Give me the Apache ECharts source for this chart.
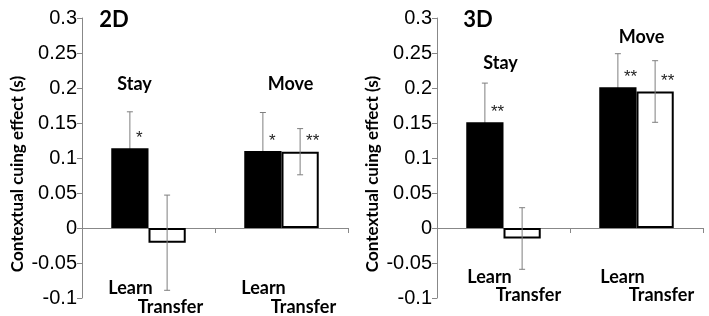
<!DOCTYPE html>
<html>
<head>
<meta charset="utf-8">
<script src="https://cdn.jsdelivr.net/npm/echarts@6/dist/echarts.min.js"></script>
<style>
html,body{margin:0;padding:0;background:#fff}
#main{width:709px;height:316px}
</style>
</head>
<body>
<div id="main"></div>
<script>
// data
var groups = ['Stay', 'Move'];
var conditions = ['Learn', 'Transfer'];
var panels = ['2D', '3D'];
var yName = 'Contextual cuing effect (s)';
var yMin = -0.1, yMax = 0.3, yStep = 0.05;

var learn2D = [0.114, 0.110];
var learn2DErr = [0.052, 0.055];
var transfer2D = [-0.021, 0.109];
var transfer2DErr = [0.068, 0.033];
var learn2DSig = ['*', '*'];
var transfer2DSig = ['', '**'];

var learn3D = [0.151, 0.201];
var learn3DErr = [0.056, 0.048];
var transfer3D = [-0.015, 0.195];
var transfer3DErr = [0.044, 0.044];
var learn3DSig = ['**', '**'];
var transfer3DSig = ['', '**'];

var FONT = 'Lato';
var NUMFONT = 'Liberation Sans';
var GRAY = '#888';

function errorItem(side) {
  return function (params, api) {
    var band = api.size([1, 0])[0];
    var x = api.coord([api.value(0), 0])[0] + side * band * 0.56 / 4;
    var hi = api.coord([api.value(0), api.value(1) + api.value(2)])[1];
    var lo = api.coord([api.value(0), api.value(1) - api.value(2)])[1];
    var st = {stroke: '#7f7f7f', lineWidth: 1};
    return {type: 'group', children: [
      {type: 'line', shape: {x1: x, y1: hi, x2: x, y2: lo}, style: st},
      {type: 'line', shape: {x1: x - 3, y1: hi, x2: x + 3, y2: hi}, style: st},
      {type: 'line', shape: {x1: x - 3, y1: lo, x2: x + 3, y2: lo}, style: st}
    ]};
  };
}

function errData(vals, errs) {
  return vals.map(function (v, i) { return [i, v, errs[i]]; });
}

function starLabel(sig) {
  return {
    show: true, position: ['50%', 0], offset: [6, -10], align: 'left', verticalAlign: 'middle',
    fontFamily: NUMFONT, fontSize: 17, color: '#222',
    formatter: function (p) { return sig[p.dataIndex]; }
  };
}

function xAxis(idx) {
  return {
    gridIndex: idx, type: 'category', data: groups,
    axisLine: {onZero: true, lineStyle: {color: GRAY, width: 1}},
    axisTick: {show: true, length: 5, lineStyle: {color: GRAY}},
    splitLine: {show: false},
    axisLabel: {show: false}
  };
}

function yAxis(idx) {
  return {
    gridIndex: idx, type: 'value', min: yMin, max: yMax, interval: yStep,
    axisLine: {show: true, lineStyle: {color: GRAY, width: 1}},
    axisTick: {show: true, length: 5, lineStyle: {color: GRAY}},
    splitLine: {show: false},
    axisLabel: {fontFamily: NUMFONT, fontSize: 20, color: '#000', margin: 5},
    name: yName, nameLocation: 'middle', nameGap: 56,
    nameTextStyle: {fontFamily: FONT, fontWeight: 'bold', fontSize: 17, color: '#000', padding: [0, 32, 0, 0]}
  };
}

function bars(idx, learn, transfer, lSig, tSig) {
  return [
    {type: 'bar', xAxisIndex: idx, yAxisIndex: idx, data: learn, barGap: 0, barCategoryGap: '44%', z: 2,
      itemStyle: {color: '#000', borderColor: '#000', borderWidth: 1.5}, label: starLabel(lSig)},
    {type: 'bar', xAxisIndex: idx, yAxisIndex: idx, data: transfer, barGap: 0, barCategoryGap: '44%', z: 2,
      itemStyle: {color: '#fff', borderColor: '#000', borderWidth: 2}, label: starLabel(tSig)}
  ];
}

function txt(x, y, s, size) {
  return {type: 'text', x: x, y: y, style: {text: s, font: 'bold ' + size + 'px ' + FONT, fill: '#000', align: 'center', verticalAlign: 'middle'}};
}

var chart = echarts.init(document.getElementById('main'));
chart.setOption({
  backgroundColor: '#fff',
  animation: false,
  grid: [
    {left: 82, top: 18, width: 266, height: 280, outerBoundsMode: 'none'},
    {left: 437, top: 18, width: 266, height: 280, outerBoundsMode: 'none'}
  ],
  xAxis: [xAxis(0), xAxis(1)],
  yAxis: [yAxis(0), yAxis(1)],
  series: [].concat(
    bars(0, learn2D, transfer2D, learn2DSig, transfer2DSig),
    bars(1, learn3D, transfer3D, learn3DSig, transfer3DSig),
    [
      {type: 'custom', xAxisIndex: 0, yAxisIndex: 0, z: 1, renderItem: errorItem(-1), data: errData(learn2D, learn2DErr)},
      {type: 'custom', xAxisIndex: 0, yAxisIndex: 0, z: 3, renderItem: errorItem(1), data: errData(transfer2D, transfer2DErr)},
      {type: 'custom', xAxisIndex: 1, yAxisIndex: 1, z: 1, renderItem: errorItem(-1), data: errData(learn3D, learn3DErr)},
      {type: 'custom', xAxisIndex: 1, yAxisIndex: 1, z: 3, renderItem: errorItem(1), data: errData(transfer3D, transfer3DErr)}
    ]
  )
});

// condition labels under the axis, group labels above the bars, placed from the category positions
var g = [];
var cx2 = groups.map(function (c, i) { return chart.convertToPixel({xAxisIndex: 0}, i); });
var cx3 = groups.map(function (c, i) { return chart.convertToPixel({xAxisIndex: 1}, i); });
cx2.forEach(function (x) {
  g.push(txt(x - 18, 288, conditions[0], 18));
  g.push(txt(x + 22, 307, conditions[1], 18));
});
cx3.forEach(function (x) {
  g.push(txt(x - 14, 277, conditions[0], 18));
  g.push(txt(x + 25, 295, conditions[1], 18));
});
g.push(txt(114, 20, panels[0], 22));
g.push(txt(478, 20, panels[1], 22));
g.push(txt(cx2[0] - 14, 84, groups[0], 18));
g.push(txt(cx2[1] + 9, 84, groups[1], 18));
g.push(txt(cx3[0] - 3, 63, groups[0], 18));
g.push(txt(cx3[1] + 5, 37, groups[1], 18));
chart.setOption({graphic: g});
</script>
</body>
</html>
